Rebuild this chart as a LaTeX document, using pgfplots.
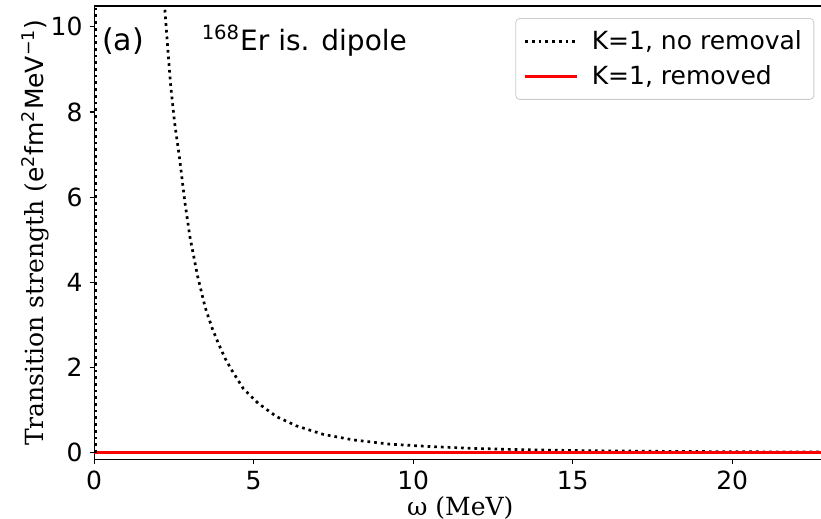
\documentclass[border=0pt]{standalone}
\usepackage{fontspec}
\setmainfont{DejaVu Sans}
\newfontfamily\seriffont{DejaVu Serif}
\usepackage{pgfplots}
\pgfplotsset{compat=1.18}

\pgfplotstableread{
x y
2.12 11.5
2.22 10.35
2.30 9.55
2.40 8.60
2.52 7.75
2.67 6.95
2.84 5.90
3.00 5.07
3.24 4.15
3.48 3.41
3.70 2.92
3.89 2.57
4.10 2.22
4.31 1.94
4.67 1.51
5.14 1.16
5.72 0.845
6.35 0.627
7.18 0.43
8.12 0.30
9.27 0.20
10.63 0.14
12.00 0.0985
13.00 0.078
14.00 0.063
15.00 0.0516
16.00 0.0428
18.00 0.0304
20.00 0.0224
22.00 0.017
23.00 0.0152
}\noremoval

\tikzset{mydots/.style={black, line width=1.35pt, dash pattern=on 1.35pt off 2.0pt}}

\begin{document}
\begin{tikzpicture}[font=\fontsize{12.5}{15}\selectfont]
\useasboundingbox (-47.1pt,-29.85pt) rectangle (363.4pt,229.65pt);
\clip (-47.1pt,-29.85pt) rectangle (363.4pt,229.65pt);
\begin{axis}[
  scale only axis,
  width=366.05pt, height=226.65pt,
  xmin=0, xmax=22.95, ymin=-0.155, ymax=10.49,
  xtick={0,5,10,15,20}, ytick={0,2,4,6,8,10},
  xtick pos=bottom, ytick pos=left,
  tick align=outside, major tick length=2.3pt,
  every tick/.style={black, line width=0.55pt},
  axis line style={black, line width=0.55pt},
  /pgf/number format/assume math mode=true,
  ticklabel style={font=\fontsize{12.5}{15}\selectfont},
  xlabel={\seriffont ω (MeV)},
  ylabel={{\seriffont Transition strength (}e\textsuperscript{2}fm\textsuperscript{2}MeV\textsuperscript{−1})},
  xlabel style={at={(axis description cs:0.5,-0.1074)}, anchor=center, inner sep=0pt},
  ylabel style={at={(axis description cs:-0.0809,0.5)}, anchor=center, inner sep=0pt},
  legend style={at={(rel axis cs:0.9836,0.9735)}, anchor=north east,
    draw=black!20, rounded corners=2pt, fill=white, fill opacity=0.8, text opacity=1,
    font=\fontsize{12.5}{15}\selectfont, inner xsep=4pt, inner ysep=4pt,
    row sep=2.5pt, column sep=4.5pt, cells={anchor=west}},
  legend image code/.code={\draw[#1] (0pt,0pt) -- (26pt,0pt);},
]
\addplot[mydots] table[x=x, y=y] {\noremoval};
\addlegendentry{K=1, no removal}
\addplot[red, line width=1.5pt] coordinates {(0,0) (22.95,0)};
\addlegendentry{K=1, removed}
\addplot[mydots, forget plot] coordinates {(0.03,0) (0.03,10.6)};
\node[anchor=base west, inner sep=0pt, font=\fontsize{15}{18}\selectfont] at (axis cs:0.235,9.45) {(a)};
\node[anchor=base west, inner sep=0pt, font=\fontsize{14}{17}\selectfont] at (axis cs:3.36,9.45) {\textsuperscript{168}Er is. dipole};
\end{axis}
\end{tikzpicture}
\end{document}
